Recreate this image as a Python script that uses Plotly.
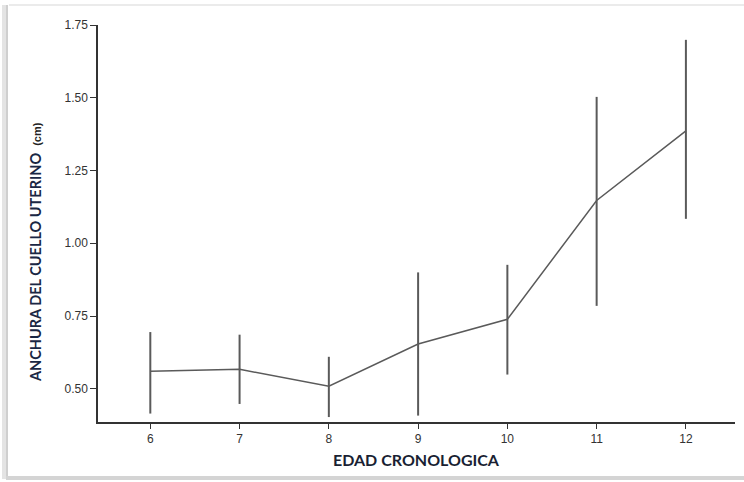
import plotly.graph_objects as go

edad = [6, 7, 8, 9, 10, 11, 12]
media = [0.56, 0.567, 0.509, 0.654, 0.739, 1.147, 1.386]
superior = [0.695, 0.686, 0.61, 0.90, 0.926, 1.503, 1.699]
inferior = [0.415, 0.448, 0.403, 0.408, 0.549, 0.785, 1.084]
y_ticks = [0.50, 0.75, 1.00, 1.25, 1.50, 1.75]
y_tick_labels = ["0.50", "0.75", "1.00", "1.25", "1.50", "1.75"]

err_plus = [s - m for s, m in zip(superior, media)]
err_minus = [m - i for m, i in zip(media, inferior)]

fig = go.Figure()
fig.add_trace(go.Scatter(
    x=edad, y=media, mode="lines",
    line=dict(color="#5a5a5a", width=1.5),
    error_y=dict(type="data", symmetric=False, array=err_plus, arrayminus=err_minus,
                 color="#5a5a5a", thickness=2, width=0),
    showlegend=False, hoverinfo="skip",
))

L, R, T, B = 98, 9, 25, 60
W, H = 744, 482
pw, ph = W - L - R, H - T - B

def px(x):
    return (x - L) / pw

def py(y):
    return (H - B - y) / ph

shapes = [
    dict(type="line", xref="paper", yref="paper", x0=px(9), x1=px(744), y0=py(5), y1=py(5),
         line=dict(color="#ebebeb", width=2)),
    dict(type="line", xref="paper", yref="paper", x0=px(4), x1=px(4), y0=py(5), y1=py(479),
         line=dict(color="#e4e4e4", width=4)),
    dict(type="line", xref="paper", yref="paper", x0=px(7), x1=px(7), y0=py(5), y1=py(479),
         line=dict(color="#cfcfcf", width=2)),
    dict(type="line", xref="paper", yref="paper", x0=px(6), x1=px(744), y0=py(478), y1=py(478),
         line=dict(color="#d4d4d4", width=4)),
]

tf = dict(family="Liberation Sans", size=12, color="#333")

fig.update_layout(
    width=W, height=H,
    margin=dict(l=L, r=R, t=T, b=B),
    paper_bgcolor="white", plot_bgcolor="white",
    xaxis=dict(range=[5.414, 12.55], tickvals=edad, ticktext=[str(e) for e in edad],
               showgrid=False, zeroline=False, showline=True, linecolor="#333", linewidth=1.5,
               ticks="outside", ticklen=5, tickcolor="#333", tickwidth=1.2,
               tickfont=tf),
    yaxis=dict(range=[0.386, 1.75], tickvals=y_ticks, ticktext=y_tick_labels,
               showgrid=False, zeroline=False, showline=True, linecolor="#333", linewidth=1.5,
               ticks="outside", ticklen=6, tickcolor="#333", tickwidth=1.2,
               tickfont=tf),
    shapes=shapes,
    annotations=[
        dict(text="EDAD CRONOLOGICA", xref="paper", yref="paper", x=px(416), y=py(460),
             showarrow=False, xanchor="center", yanchor="middle",
             font=dict(family="Lato", size=16, color="#1a1f33", weight="bold")),
        dict(text="ANCHURA DEL CUELLO UTERINO  <span style='font-family:Liberation Sans;font-size:11px;color:#222'>(cm)</span>",
             xref="paper", yref="paper", x=px(35), y=py(252), textangle=-90,
             showarrow=False, xanchor="center", yanchor="middle",
             font=dict(family="Lato", size=14.5, color="#1a2744", weight="bold")),
    ],
)

fig.write_html("out.html")
